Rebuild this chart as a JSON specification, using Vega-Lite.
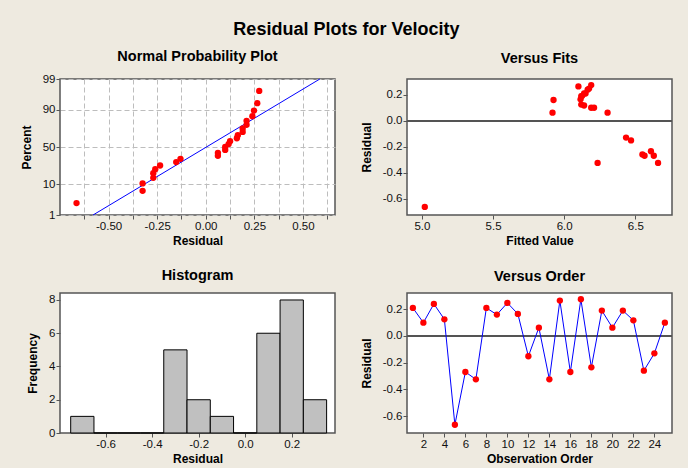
{
  "$schema": "https://vega.github.io/schema/vega-lite/v6.json",
  "background": "#EEEAE0",
  "padding": {"left": 19, "top": 21, "right": 14, "bottom": 2},
  "title": {"text": "Residual Plots for Velocity", "font": "Liberation Sans", "fontSize": 18, "fontWeight": "bold", "color": "#000000", "anchor": "middle", "offset": 9},
  "datasets": {
    "resid": [
      {"obs": 1, "fit": 6.15, "residual": 0.21, "nscore": 0.757},
      {"obs": 2, "fit": 6.19, "residual": 0.10, "nscore": -0.099},
      {"obs": 3, "fit": 6.165, "residual": 0.24, "nscore": 1.055},
      {"obs": 4, "fit": 6.12, "residual": 0.125, "nscore": 0.198},
      {"obs": 5, "fit": 5.02, "residual": -0.665, "nscore": -1.918},
      {"obs": 6, "fit": 6.565, "residual": -0.27, "nscore": -1.055},
      {"obs": 7, "fit": 6.235, "residual": -0.325, "nscore": -1.499},
      {"obs": 8, "fit": 6.14, "residual": 0.21, "nscore": 0.896},
      {"obs": 9, "fit": 5.925, "residual": 0.16, "nscore": 0.300},
      {"obs": 10, "fit": 6.175, "residual": 0.248, "nscore": 1.247},
      {"obs": 11, "fit": 6.115, "residual": 0.165, "nscore": 0.405},
      {"obs": 12, "fit": 6.47, "residual": -0.152, "nscore": -0.515},
      {"obs": 13, "fit": 5.918, "residual": 0.0625, "nscore": -0.300},
      {"obs": 14, "fit": 6.66, "residual": -0.325, "nscore": -1.247},
      {"obs": 15, "fit": 6.10, "residual": 0.265, "nscore": 1.499},
      {"obs": 16, "fit": 6.63, "residual": -0.27, "nscore": -0.896},
      {"obs": 17, "fit": 6.19, "residual": 0.275, "nscore": 1.918},
      {"obs": 18, "fit": 6.61, "residual": -0.235, "nscore": -0.632},
      {"obs": 19, "fit": 6.125, "residual": 0.19, "nscore": 0.515},
      {"obs": 20, "fit": 6.305, "residual": 0.0625, "nscore": -0.198},
      {"obs": 21, "fit": 6.12, "residual": 0.19, "nscore": 0.632},
      {"obs": 22, "fit": 6.14, "residual": 0.1175, "nscore": 0.099},
      {"obs": 23, "fit": 6.55, "residual": -0.26, "nscore": -0.757},
      {"obs": 24, "fit": 6.435, "residual": -0.13, "nscore": -0.405},
      {"obs": 25, "fit": 6.21, "residual": 0.10, "nscore": 0.0}
    ],
    "fitline": [
      {"residual": -0.58, "nscore": -2.3263},
      {"residual": 0.587, "nscore": 2.3263}
    ],
    "hist": [
      {"bin_start": -0.75, "bin_end": -0.65, "count": 1},
      {"bin_start": -0.65, "bin_end": -0.55, "count": 0},
      {"bin_start": -0.55, "bin_end": -0.45, "count": 0},
      {"bin_start": -0.45, "bin_end": -0.35, "count": 0},
      {"bin_start": -0.35, "bin_end": -0.25, "count": 5},
      {"bin_start": -0.25, "bin_end": -0.15, "count": 2},
      {"bin_start": -0.15, "bin_end": -0.05, "count": 1},
      {"bin_start": -0.05, "bin_end": 0.05, "count": 0},
      {"bin_start": 0.05, "bin_end": 0.15, "count": 6},
      {"bin_start": 0.15, "bin_end": 0.25, "count": 8},
      {"bin_start": 0.25, "bin_end": 0.35, "count": 2}
    ]
  },
  "columns": 2,
  "bounds": "flush",
  "align": "each",
  "spacing": {"row": 78, "column": 72},
  "concat": [
    {
      "width": 275,
      "height": 136,
      "title": {"text": "Normal Probability Plot", "frame": "group", "offset": 8.5},
      "encoding": {
        "x": {"field": "residual", "type": "quantitative", "title": "Residual",
              "scale": {"domain": [-0.75, 0.665], "nice": false, "zero": false},
              "axis": {"values": [-0.625, -0.5, -0.375, -0.25, -0.125, 0, 0.125, 0.25, 0.375, 0.5, 0.625],
                       "format": ".2f",
                       "labelExpr": "abs(datum.value*4 - round(datum.value*4)) < 0.01 ? replace(datum.label, '−', '-') : ''",
                       "grid": true, "gridDash": [5, 3], "gridColor": "#BDBDBD", "gridWidth": 1}},
        "y": {"field": "nscore", "type": "quantitative", "title": "Percent",
              "scale": {"domain": [-2.3263, 2.3263], "nice": false, "zero": false},
              "axis": {"values": [-2.3263, -1.2816, 0, 1.2816, 2.3263],
                       "labelExpr": "datum.value < -2 ? '1' : datum.value < -1 ? '10' : datum.value < 1 ? '50' : datum.value < 2 ? '90' : '99'",
                       "grid": true, "gridDash": [5, 3], "gridColor": "#BDBDBD", "gridWidth": 1}}
      },
      "layer": [
        {"data": {"name": "fitline"}, "mark": {"type": "line", "color": "#0000FF", "strokeWidth": 1}},
        {"data": {"name": "resid"}, "mark": {"type": "circle", "color": "#FF0000", "opacity": 1, "size": 40}}
      ]
    },
    {
      "width": 265,
      "height": 136,
      "title": {"text": "Versus Fits", "frame": "group", "offset": 13},
      "data": {"name": "resid"},
      "layer": [
        {"mark": {"type": "rule", "color": "#555555", "strokeWidth": 1.2},
         "encoding": {"y": {"datum": 0, "type": "quantitative",
              "scale": {"domain": [-0.727, 0.322], "nice": false, "zero": false},
              "title": "Residual",
              "axis": {"values": [-0.6, -0.4, -0.2, 0, 0.2], "format": ".1f", "labelOverlap": false, "labelExpr": "replace(datum.label, '−', '-')"}}}},
        {"mark": {"type": "circle", "color": "#FF0000", "opacity": 1, "size": 40},
         "encoding": {
           "x": {"field": "fit", "type": "quantitative", "title": "Fitted Value",
                 "scale": {"domain": [4.895, 6.758], "nice": false, "zero": false},
                 "axis": {"values": [5, 5.5, 6, 6.5], "format": ".1f", "labelOverlap": false}},
           "y": {"field": "residual", "type": "quantitative", "title": "Residual",
                 "scale": {"domain": [-0.727, 0.322], "nice": false, "zero": false},
                 "axis": {"values": [-0.6, -0.4, -0.2, 0, 0.2], "format": ".1f", "labelOverlap": false, "labelExpr": "replace(datum.label, '−', '-')"}}
         }}
      ]
    },
    {
      "width": 275,
      "height": 140,
      "title": {"text": "Histogram", "frame": "group", "offset": 10},
      "data": {"name": "hist"},
      "mark": {"type": "bar", "fill": "#C0C0C0", "stroke": "#000000", "strokeWidth": 1},
      "encoding": {
        "x": {"field": "bin_start", "type": "quantitative", "title": "Residual",
              "scale": {"domain": [-0.796, 0.386], "nice": false, "zero": false},
              "axis": {"values": [-0.6, -0.4, -0.2, 0, 0.2], "format": ".1f", "labelExpr": "replace(datum.label, '−', '-')"}},
        "x2": {"field": "bin_end"},
        "y": {"field": "count", "type": "quantitative", "title": "Frequency",
              "scale": {"domain": [0, 8.42], "nice": false},
              "axis": {"values": [0, 2, 4, 6, 8]}},
        "y2": {"datum": 0}
      }
    },
    {
      "width": 265,
      "height": 140,
      "title": {"text": "Versus Order", "frame": "group", "offset": 9},
      "data": {"name": "resid"},
      "layer": [
        {"mark": {"type": "rule", "color": "#555555", "strokeWidth": 1.2},
         "encoding": {"y": {"datum": 0, "type": "quantitative",
              "scale": {"domain": [-0.727, 0.322], "nice": false, "zero": false},
              "title": "Residual",
              "axis": {"values": [-0.6, -0.4, -0.2, 0, 0.2], "format": ".1f", "labelOverlap": false, "labelExpr": "replace(datum.label, '−', '-')"}}}},
        {"mark": {"type": "line", "color": "#0000FF", "strokeWidth": 1},
         "encoding": {
           "x": {"field": "obs", "type": "quantitative", "title": "Observation Order",
                 "scale": {"domain": [0.44, 25.68], "nice": false, "zero": false},
                 "axis": {"values": [2, 4, 6, 8, 10, 12, 14, 16, 18, 20, 22, 24], "labelOverlap": false}},
           "y": {"field": "residual", "type": "quantitative", "title": "Residual",
                 "scale": {"domain": [-0.727, 0.322], "nice": false, "zero": false},
                 "axis": {"values": [-0.6, -0.4, -0.2, 0, 0.2], "format": ".1f", "labelOverlap": false, "labelExpr": "replace(datum.label, '−', '-')"}}
         }},
        {"mark": {"type": "circle", "color": "#FF0000", "opacity": 1, "size": 40},
         "encoding": {
           "x": {"field": "obs", "type": "quantitative", "title": "Observation Order",
                 "scale": {"domain": [0.44, 25.68], "nice": false, "zero": false},
                 "axis": {"values": [2, 4, 6, 8, 10, 12, 14, 16, 18, 20, 22, 24], "labelOverlap": false}},
           "y": {"field": "residual", "type": "quantitative", "title": "Residual",
                 "scale": {"domain": [-0.727, 0.322], "nice": false, "zero": false},
                 "axis": {"values": [-0.6, -0.4, -0.2, 0, 0.2], "format": ".1f", "labelOverlap": false, "labelExpr": "replace(datum.label, '−', '-')"}}
         }}
      ]
    }
  ],
  "config": {
    "font": "Liberation Sans",
    "view": {"fill": "#FFFFFF", "stroke": "#555555", "strokeWidth": 1.5},
    "axis": {
      "domain": false, "grid": false, "labelOverlap": false,
      "tickColor": "#555555", "tickSize": 4, "tickWidth": 1,
      "labelFont": "Liberation Sans", "labelFontSize": 11.5, "labelColor": "#111111", "labelPadding": 1,
      "titleFont": "Liberation Sans", "titleFontSize": 12, "titleFontWeight": "bold", "titleColor": "#000000", "titlePadding": 4
    },
    "axisY": {"titlePadding": 9},
    "title": {"font": "Liberation Sans", "fontSize": 14.5, "fontWeight": "bold", "color": "#000000"}
  }
}
